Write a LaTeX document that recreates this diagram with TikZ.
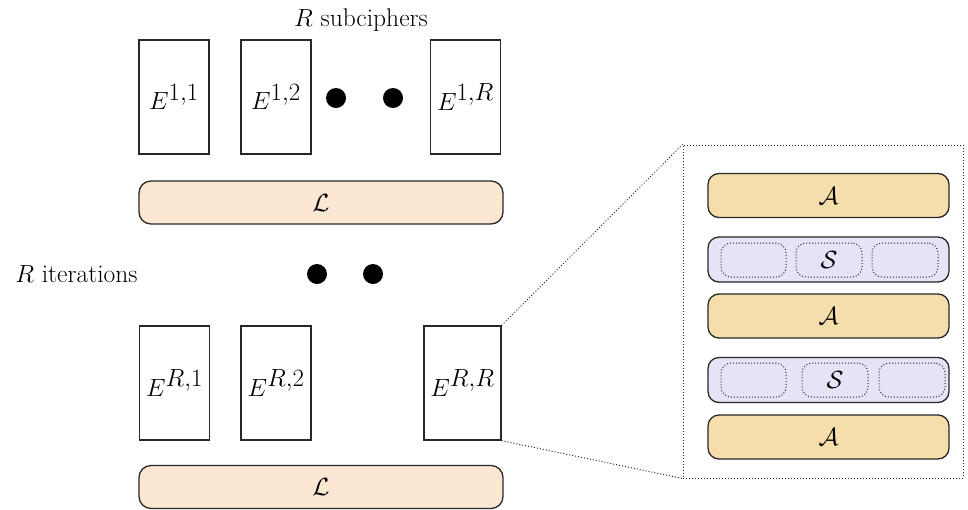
\documentclass[tikz,border=0pt]{standalone}
\usetikzlibrary{positioning}
\definecolor{lcol}{RGB}{252,232,210}
\definecolor{acol}{RGB}{246,222,172}
\definecolor{scol}{RGB}{228,228,246}
\definecolor{edge}{RGB}{40,40,40}
\tikzset{
  mfont/.style={font=\fontsize{35}{42}\selectfont},
  ebox/.style={draw=edge, line width=1.3pt, minimum width=70pt, minimum height=114pt, inner sep=0pt, mfont},
  lbar/.style={draw=edge, line width=1.3pt, fill=lcol, rounded corners=12pt, minimum width=364pt, minimum height=43pt, inner sep=0pt, mfont},
  abar/.style={draw=edge, line width=1.3pt, fill=acol, rounded corners=11pt, minimum width=241pt, minimum height=44pt, inner sep=0pt, mfont},
  sbar/.style={draw=edge, line width=1.3pt, fill=scol, rounded corners=11pt, minimum width=241pt, minimum height=45pt, inner sep=0pt},
  sub/.style={draw=edge, dotted, line width=1pt, rounded corners=10pt, minimum width=65pt, minimum height=34pt, inner sep=0pt, mfont},
  bigdot/.style={circle, fill=black, minimum size=20pt, inner sep=0pt},
  lab/.style={font=\fontsize{25.5}{30}\selectfont, inner sep=0pt},
  panel/.style={draw=edge, dotted, line width=1pt, inner sep=0pt},
  zoomline/.style={draw=edge, dotted, line width=1pt}
}
\begin{document}
\begin{tikzpicture}[x=1pt,y=-1pt]
\useasboundingbox (0,0) rectangle (968,509);
% top row
\node[lab] (sub) at (361,20) {$R$ subciphers};
\node[ebox] (e11) at (174,97) {$E^{1,1}$};
\node[ebox] (e12) at (276,97) {$E^{1,2}$};
\node[ebox] (e1r) at (465.5,97) {$E^{1,R}$};
\node[bigdot] (d1) at (336,98) {};
\node[bigdot] (d2) at (393,98) {};
\node[lbar] (l1) at (321,202.5) {$\mathcal{L}$};
% middle
\node[lab] (iter) at (76.5,274) {$R$ iterations};
\node[bigdot] (d3) at (317,274) {};
\node[bigdot] (d4) at (373,274) {};
% bottom row
\node[ebox] (er1) at (174.5,383) {$E^{R,1}$};
\node[ebox] (er2) at (276,383) {$E^{R,2}$};
\node[ebox, minimum width=77pt] (err) at (462.5,383) {$E^{R,R}$};
\node[lbar] (l2) at (321,487) {$\mathcal{L}$};
% panel
\node[panel, minimum width=280pt, minimum height=333pt] (pan) at (823,311.5) {};
\node[abar] (a1) at (828.5,195.5) {$\mathcal{A}$};
\node[sbar] (s1) at (828.5,259.5) {};
\node[abar] (a2) at (828.5,316) {$\mathcal{A}$};
\node[sbar] (s2) at (828.5,380) {};
\node[abar] (a3) at (828.5,437) {$\mathcal{A}$};
\node[sub] (s1a) at (753.5,260) {};
\node[sub, minimum width=66pt] (s1b) at (829,260) {$\mathcal{S}$};
\node[sub, minimum width=66pt] (s1c) at (905,260) {};
\node[sub] (s2a) at (753.5,380) {};
\node[sub, minimum width=66pt] (s2b) at (835,380) {$\mathcal{S}$};
\node[sub, minimum width=66pt] (s2c) at (912,380) {};
% zoom lines
\draw[zoomline] (err.north east) -- (pan.north west);
\draw[zoomline] (err.south east) -- (pan.south west);
\end{tikzpicture}
\end{document}
